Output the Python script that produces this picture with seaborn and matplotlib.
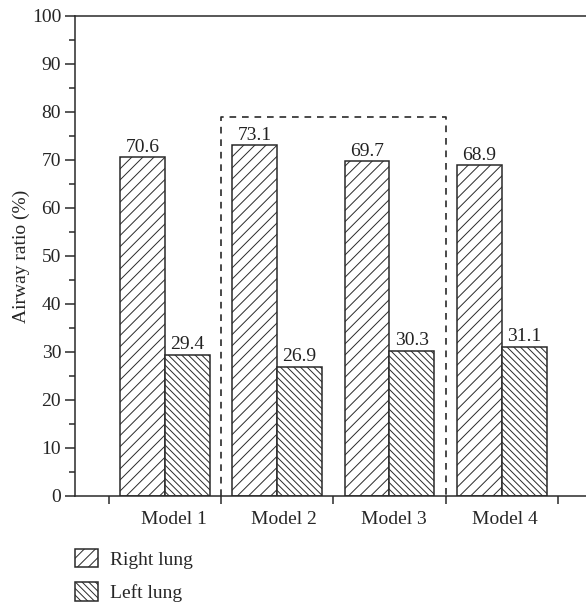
import matplotlib
matplotlib.use("Agg")
import matplotlib.pyplot as plt
import seaborn as sns
import pandas as pd
from matplotlib.patches import Patch
from matplotlib.ticker import MultipleLocator, FixedLocator

models = ["Model 1", "Model 2", "Model 3", "Model 4"]
right_lung = [70.6, 73.1, 69.7, 68.9]
left_lung = [29.4, 26.9, 30.3, 31.1]
series = ["Right lung", "Left lung"]

df = pd.DataFrame({
    "model": models * 2,
    "lung": [series[0]] * 4 + [series[1]] * 4,
    "value": right_lung + left_lung,
})

sns.set_style("ticks")
plt.rcParams["font.family"] = ["Liberation Serif", "DejaVu Serif"]
plt.rcParams["hatch.color"] = "#9a9a9a"
plt.rcParams["hatch.linewidth"] = 0.7

FS = 14
fig = plt.figure(figsize=(5.86, 6.10), dpi=100)
ax = fig.add_axes([75 / 586, (610 - 496) / 610, (586 - 75) / 586, 480 / 610])

sns.barplot(data=df, x="model", y="value", hue="lung", hue_order=series,
            palette=["white", "white"], width=0.8, edgecolor="#2a2a2a",
            linewidth=1.1, saturation=1, legend=False, ax=ax)

hatches = ["///", "\\\\\\\\\\"]
for cont, h in zip(ax.containers, hatches):
    for p in cont:
        p.set_hatch(h)
    ax.bar_label(cont, fmt="%.1f", padding=1, fontsize=FS, color="#222222")

ax.set_xlim(-0.80, 3.75)
ax.set_ylim(0, 100)

# dashed box around Model 2 & 3
ax.plot([0.5, 0.5, 2.5, 2.5], [0, 79, 79, 0], ls=(0, (4, 3.5)), color="#2a2a2a",
        lw=1.2, clip_on=False, zorder=5)

ax.xaxis.set_major_locator(FixedLocator([-0.5, 0.5, 1.5, 2.5, 3.5]))
ax.set_xticklabels([])
ax.xaxis.set_minor_locator(FixedLocator([0.08, 1.06, 2.04, 3.03]))
ax.set_xticklabels(models, minor=True, fontsize=FS)
ax.tick_params(axis="x", which="major", direction="out", length=6, width=1.1, color="#2a2a2a")
ax.tick_params(axis="x", which="minor", length=0, pad=11)

ax.yaxis.set_major_locator(MultipleLocator(10))
ax.yaxis.set_minor_locator(MultipleLocator(5))
ax.tick_params(axis="y", which="major", direction="out", length=7, width=1.1,
               labelsize=FS, color="#2a2a2a", pad=3)
ax.tick_params(axis="y", which="minor", direction="out", length=4, width=1.1, color="#2a2a2a")

ax.set_xlabel("")
ax.set_ylabel("Airway ratio (%)", fontsize=FS, labelpad=1)

for s in ["left", "bottom", "top"]:
    ax.spines[s].set_visible(True)
    ax.spines[s].set_linewidth(1.1)
    ax.spines[s].set_color("#2a2a2a")
ax.spines["right"].set_visible(False)

handles = [Patch(facecolor="white", edgecolor="#2a2a2a", hatch=h, linewidth=1.1) for h in hatches]
fig.legend(handles, series, loc="upper left", bbox_to_anchor=(75 / 586, (610 - 549) / 610),
           frameon=False, fontsize=FS, handlelength=1.19, handleheight=1.08,
           handletextpad=0.62, labelspacing=0.7, borderpad=0, borderaxespad=0)

fig.savefig("out.png", dpi=100)
